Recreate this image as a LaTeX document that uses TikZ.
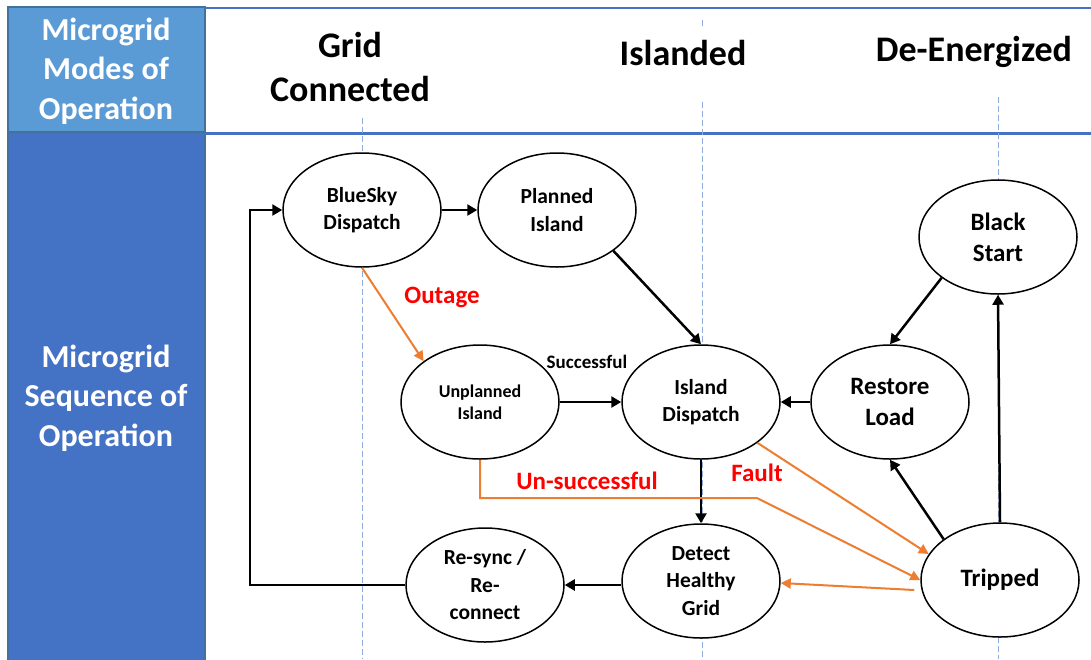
\documentclass[tikz,border=0pt]{standalone}
\usepackage{fontspec}
\setmainfont{Carlito}
\usetikzlibrary{arrows.meta, shapes.geometric, calc}
\definecolor{hdrblue}{HTML}{5B9BD5}
\definecolor{hdredge}{HTML}{41719C}
\definecolor{seqblue}{HTML}{4472C4}
\definecolor{guide}{HTML}{8FAADC}
\definecolor{trans}{HTML}{ED7D31}
\tikzset{
    state/.style = {ellipse, draw, line width=1.5pt, fill=white, minimum width=158pt, minimum height=114pt, inner sep=0pt, align=center},
    fbig/.style = {font=\bfseries\fontsize{25}{31}\selectfont},
    fmid/.style = {font=\bfseries\fontsize{21.5}{27.5}\selectfont},
    fsmall/.style = {font=\bfseries\fontsize{18}{22}\selectfont},
    flow/.style = {-{Triangle[length=10pt, width=11pt]}, line width=2.5pt},
    fail/.style = {-{Triangle[length=10pt, width=10pt]}, line width=2pt, draw=trans},
    guideline/.style = {draw=guide, line width=1pt, dash pattern=on 6pt off 3pt},
    redlbl/.style = {text=red, font=\bfseries\fontsize{25}{30}\selectfont},
    mode/.style = {align=center, font=\bfseries\fontsize{36}{44}\selectfont},
    side/.style = {align=center, text=white, font=\bfseries\fontsize{32}{39.5}\selectfont}
}

\begin{document}
\begin{tikzpicture}[x=1pt, y=-1pt]
\useasboundingbox (0,0) rectangle (1091,659);

% Left column
\draw[fill=hdrblue, draw=hdredge, line width=1.5pt] (8,7) rectangle (205,132);
\draw[fill=seqblue, draw=hdredge, line width=1.5pt] (8,132) rectangle (205,662);
\node[side] (MMO) at (106,71) {Microgrid\\Modes of\\Operation};
\node[side] (MSO) at (106,398) {Microgrid\\Sequence of\\Operation};

% Header rules
\draw[seqblue, line width=2.5pt] (205,8) -- (1091,8);
\draw[seqblue, line width=3pt] (205,133) -- (1091,133);

% Mode guides
\draw[guideline] (362,118) -- (362,659);
\draw[guideline] (702,20) -- (702,28);
\draw[guideline] (702,102) -- (702,659);
\draw[guideline] (998,97) -- (998,659);

% Modes
\node[mode] (GCM) at (350,67) {Grid\\Connected};
\node[mode] (ISM) at (683,53) {Islanded};
\node[mode] (DEM) at (974,52) {De-Energized};

% States
\node[state, fmid] (BSD) at (362,210) {BlueSky\\Dispatch};
\node[state, fmid] (PI) at (557,210) {Planned\\Island};
\node[state, fsmall] (UI) at (480,402) {Unplanned\\Island};
\node[state, fmid] (ID) at (701,402) {Island\\Dispatch};
\node[state, fbig] (RL) at (890,402) {Restore\\Load};
\node[state, fbig] (BS) at (998,237) {Black\\Start};
\node[state, fbig] (TR) at (1000,580) {Tripped};
\node[state, fmid] (DHG) at (701,581) {Detect\\Healthy\\Grid};
\node[state, fmid] (RS) at (485,585) {Re-sync /\\Re-\\connect};

\coordinate (loop) at (250,585);
\coordinate (kink) at (757,498);

% Normal transitions
\draw[flow] (BSD.east) -- (PI.west);
\draw[flow] (PI.south east) -- (ID.north);
\draw[flow] (UI.east) -- (ID.west);
\draw[flow] (RL.west) -- (ID.east);
\draw[flow] (BS.south west) -- (RL.north);
\draw[flow] (TR.north west) -- (RL.south);
\draw[flow] (TR.north) -- (BS.south);
\draw[flow] (ID.south) -- (DHG.north);
\draw[flow] (DHG.west |- RS.east) -- (RS.east);
\draw[flow] (RS.west) -- (loop) |- (BSD.west);

% Abnormal transitions
\draw[fail] (BSD.south) -- (UI.north west);
\draw[fail] (UI.south) |- (kink) -- (TR.west);
\draw[fail] (ID.south east) -- (TR.160);
\draw[fail] ([xshift=-6pt, yshift=-10pt]TR.west) -- ([yshift=-2pt]DHG.east);

% Labels
\node[font=\bfseries\fontsize{19}{23}\selectfont] (SUC) at (587,362) {Successful};
\node[redlbl] (OUT) at (442,297) {Outage};
\node[redlbl] (UNS) at (587,481) {Un-successful};
\node[redlbl] (FLT) at (757,473) {Fault};
\end{tikzpicture}
\end{document}
